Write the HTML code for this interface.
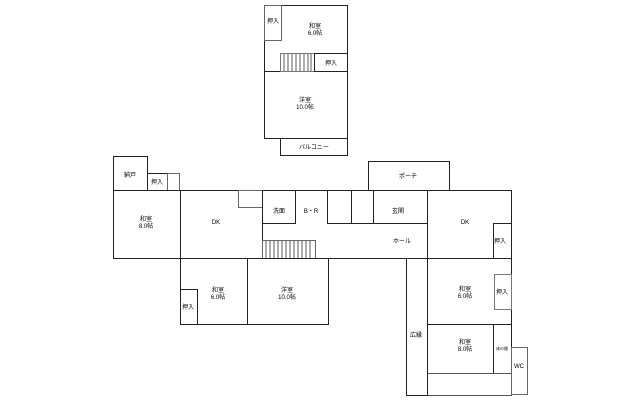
<!DOCTYPE html>
<html><head><meta charset="utf-8"><style>
html,body{margin:0;padding:0;background:#fff;width:640px;height:400px;overflow:hidden}
svg{display:block}
text{font-family:"Liberation Sans","Noto Sans CJK JP",sans-serif;font-size:6px;fill:#000;text-anchor:middle}
</style></head><body>
<svg width="640" height="400" viewBox="0 0 640 400" xmlns="http://www.w3.org/2000/svg">
<g fill="none" stroke="#222" stroke-width="1">
<!-- upper floor -->
<rect x="264.5" y="5.5" width="83" height="133"/>
<rect x="264.5" y="5.5" width="17" height="35" stroke="#666"/>
<line x1="264.5" y1="71.5" x2="347.5" y2="71.5"/>
<rect x="280.5" y="53.5" width="34" height="18" stroke="#777"/>
<rect x="314.5" y="53.5" width="33" height="18"/>
<rect x="280.5" y="138.5" width="67" height="17"/>
<!-- ground floor -->
<rect x="113.5" y="156.5" width="34" height="34"/>
<rect x="147.5" y="173.5" width="20" height="17"/>
<rect x="167.5" y="173.5" width="12" height="17" stroke="#666"/>
<rect x="113.5" y="190.5" width="67" height="68"/>
<rect x="180.5" y="190.5" width="247" height="68"/>
<rect x="238.5" y="190.5" width="24" height="17" stroke="#666"/>
<line x1="262.5" y1="190.5" x2="262.5" y2="258.5"/>
<rect x="262.5" y="190.5" width="33" height="33"/>
<rect x="327.5" y="190.5" width="24" height="33"/>
<rect x="351.5" y="190.5" width="22" height="33"/>
<rect x="373.5" y="190.5" width="54" height="33"/>
<rect x="368.5" y="161.5" width="81" height="29"/>
<rect x="262.5" y="240.5" width="53" height="18" stroke="#666"/>
<rect x="180.5" y="258.5" width="67" height="66"/>
<rect x="180.5" y="289.5" width="17" height="35"/>
<rect x="247.5" y="258.5" width="81" height="66"/>
<rect x="427.5" y="190.5" width="84" height="68"/>
<rect x="493.5" y="223.5" width="18" height="35"/>
<rect x="427.5" y="258.5" width="84" height="66"/>
<rect x="494.5" y="274.5" width="17" height="35" stroke="#777"/>
<rect x="427.5" y="324.5" width="84" height="49"/>
<rect x="493.5" y="324.5" width="18" height="49"/>
<rect x="427.5" y="373.5" width="84" height="22" stroke="#555"/>
<rect x="406.5" y="258.5" width="21" height="137"/>
<rect x="511.5" y="347.5" width="16" height="47" stroke="#666"/>
</g>
<g stroke="#333" stroke-width="0.8">
<line x1="284" y1="54" x2="284" y2="71"/><line x1="288" y1="54" x2="288" y2="71"/><line x1="292" y1="54" x2="292" y2="71"/><line x1="296" y1="54" x2="296" y2="71"/><line x1="300" y1="54" x2="300" y2="71"/><line x1="304" y1="54" x2="304" y2="71"/><line x1="308" y1="54" x2="308" y2="71"/><line x1="311" y1="54" x2="311" y2="71"/>
<line x1="266" y1="241" x2="266" y2="258"/><line x1="270" y1="241" x2="270" y2="258"/><line x1="274" y1="241" x2="274" y2="258"/><line x1="278" y1="241" x2="278" y2="258"/><line x1="282" y1="241" x2="282" y2="258"/><line x1="286" y1="241" x2="286" y2="258"/><line x1="290" y1="241" x2="290" y2="258"/><line x1="294" y1="241" x2="294" y2="258"/><line x1="298" y1="241" x2="298" y2="258"/><line x1="302" y1="241" x2="302" y2="258"/><line x1="306" y1="241" x2="306" y2="258"/><line x1="310" y1="241" x2="310" y2="258"/>
</g>
<text x="273" y="23">押入</text>
<text x="315" y="28">和室</text><text x="315" y="35">6.0帖</text>
<text x="331" y="65">押入</text>
<text x="305" y="102">洋室</text><text x="305" y="109">10.0帖</text>
<text x="314" y="149">バルコニー</text>
<text x="130" y="177">納戸</text>
<text x="157" y="184">押入</text>
<text x="146" y="221">和室</text><text x="146" y="228">8.0帖</text>
<text x="216" y="224">DK</text>
<text x="279" y="213">洗面</text>
<text x="311" y="213">B・R</text>
<text x="398" y="213">玄関</text>
<text x="408" y="178">ポーチ</text>
<text x="402" y="243">ホール</text>
<text x="465" y="224">DK</text>
<text x="500" y="243">押入</text>
<text x="218" y="292">和室</text><text x="218" y="299">6.0帖</text>
<text x="188" y="309">押入</text>
<text x="287" y="292">洋室</text><text x="287" y="299">10.0帖</text>
<text x="465" y="291">和室</text><text x="465" y="298">6.0帖</text>
<text x="502" y="294">押入</text>
<text x="416" y="337">広縁</text>
<text x="465" y="344">和室</text><text x="465" y="351">8.0帖</text>
<text x="502" y="350" style="font-size:4px">床の間</text>
<text x="519" y="368">WC</text>
</svg>
</body></html>
